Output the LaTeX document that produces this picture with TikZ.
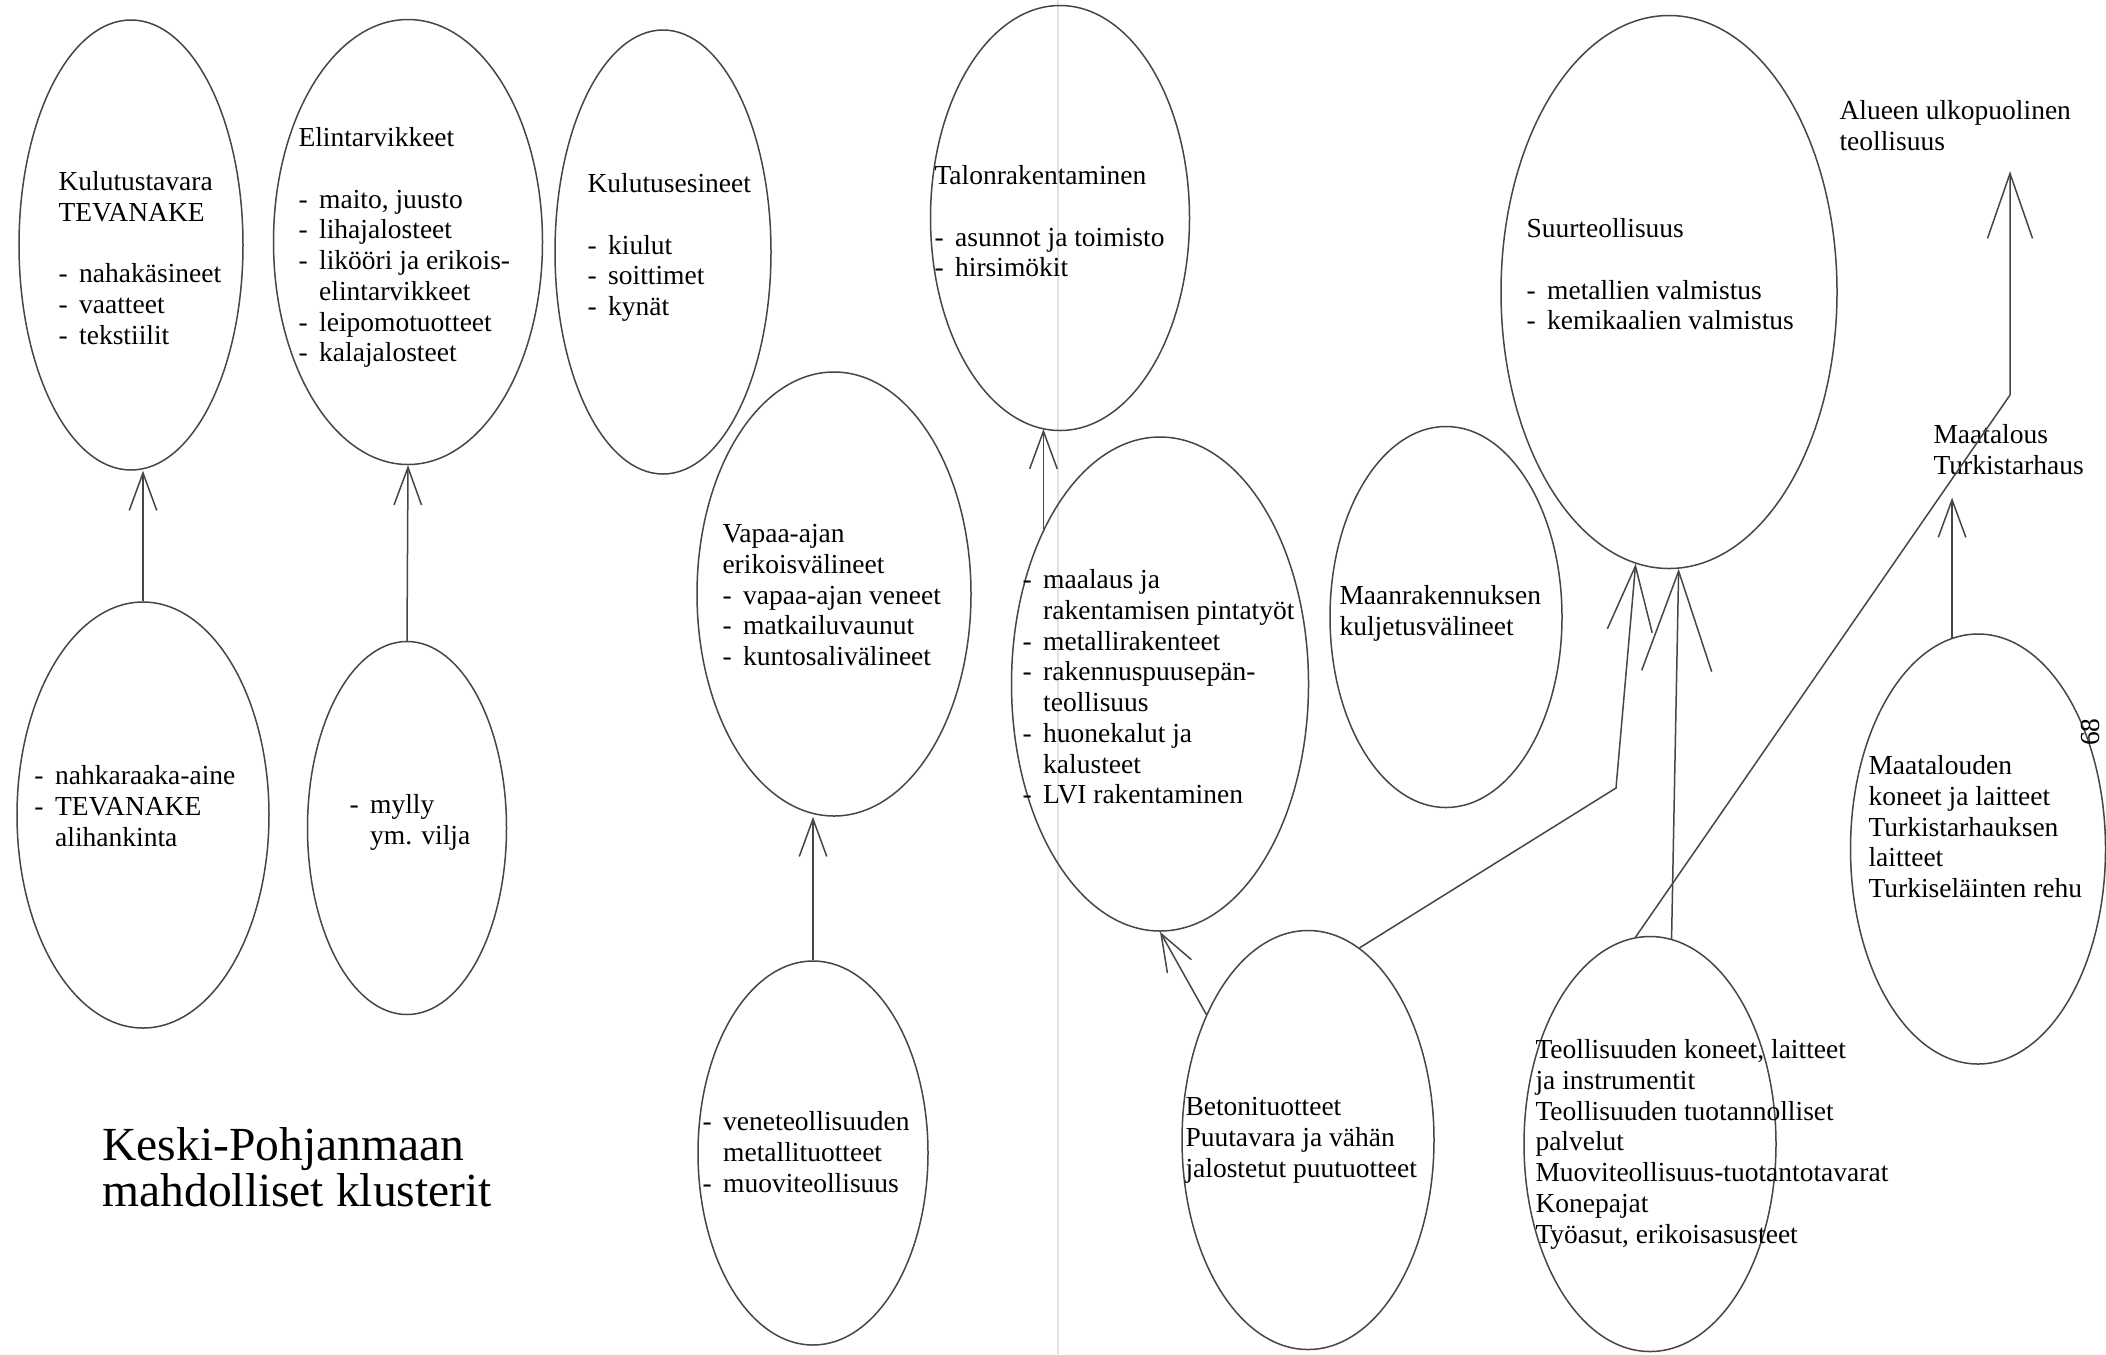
\documentclass[tikz,border=0pt]{standalone}
\usepackage{fontspec}
\setmainfont{Liberation Serif}
\usetikzlibrary{shapes.geometric, arrows.meta}
\definecolor{lineGray}{RGB}{70, 70, 70}
\definecolor{seamGray}{RGB}{226, 226, 226}
\newcommand{\itm}{-\hspace{0.42em}}
\newcommand{\ind}{\hphantom{-\hspace{0.42em}}}

\begin{document}
\begin{tikzpicture}[x=0.4pt, y=-0.4pt,
    oval/.style 2 args={ellipse, draw=lineGray, line width=0.6pt, minimum width=#1, minimum height=#2, inner sep=0pt},
    txt/.style={anchor=north west, inner sep=0pt, align=left, font=\fontsize{11}{12.3}\selectfont},
    flow/.style={draw=lineGray, line width=0.6pt, -{Straight Barb[length=15pt, width=11pt]}},
    bigflow/.style={flow, -{Straight Barb[length=26pt, width=18pt]}},
    hugeflow/.style={flow, -{Straight Barb[length=40pt, width=28pt]}}]
        \fill[white] (0,0) rectangle (2106,1354);
        \useasboundingbox (0,0) rectangle (2106,1354);
        \draw[seamGray, line width=0.8pt] (1058,0) -- (1058,1354);

        \node[oval={89.6pt}{180pt}] (kulutus) at (131,245) {};
        \node[oval={107.6pt}{178pt}] (elin) at (408,242) {};
        \node[oval={86.4pt}{177.6pt}] (esine) at (663,252) {};
        \node[oval={100.8pt}{170.4pt}] (nahka) at (143,815) {};
        \node[oval={79.6pt}{149.2pt}] (mylly) at (407,828) {};
        \node[oval={109.6pt}{177.6pt}] (vapaa) at (834,594) {};
        \node[oval={92pt}{153.6pt}] (vene) at (813,1153) {};
        \node[oval={103.6pt}{170pt}] (talo) at (1060,218) {};
        \node[oval={118.8pt}{197.6pt}] (maalaus) at (1160,684) {};
        \node[oval={100.8pt}{167.6pt}] (betoni) at (1308,1140) {};
        \node[oval={92.8pt}{152.4pt}] (maanrak) at (1446,617) {};
        \node[oval={134.4pt}{221.2pt}] (suur) at (1669,292) {};
        \node[oval={100.8pt}{166pt}] (teoll) at (1650,1144) {};
        \node[oval={102pt}{172pt}] (maatal) at (1978,849) {};

        \node[txt] (kulutus-t) at (58,171) {Kulutustavara\\TEVANAKE\\[12.3pt]\itm nahakäsineet\\\itm vaatteet\\\itm tekstiilit};
        \node[txt] (elin-t) at (298,127) {Elintarvikkeet\\[12.3pt]\itm maito, juusto\\\itm lihajalosteet\\\itm likööri ja erikois-\\\ind elintarvikkeet\\\itm leipomotuotteet\\\itm kalajalosteet};
        \node[txt] (esine-t) at (587,173) {Kulutusesineet\\[12.3pt]\itm kiulut\\\itm soittimet\\\itm kynät};
        \node[txt] (nahka-t) at (34,765) {\itm nahkaraaka-aine\\\itm TEVANAKE\\\ind alihankinta};
        \node[txt] (mylly-t) at (349,794) {\itm mylly\\\ind ym. vilja};
        \node[txt] (vapaa-t) at (722,524) {Vapaa-ajan\\erikoisvälineet\\\itm vapaa-ajan veneet\\\itm matkailuvaunut\\\itm kuntosalivälineet};
        \node[txt] (vene-t) at (702,1111) {\itm veneteollisuuden\\\ind metallituotteet\\\itm muoviteollisuus};
        \node[txt] (talo-t) at (934,165) {Talonrakentaminen\\[12.3pt]\itm asunnot ja toimisto\\\itm hirsimökit};
        \node[txt] (maalaus-t) at (1022,569) {\itm maalaus ja\\\ind rakentamisen pintatyöt\\\itm metallirakenteet\\\itm rakennuspuusepän-\\\ind teollisuus\\\itm huonekalut ja\\\ind kalusteet\\\itm LVI rakentaminen};
        \node[txt] (betoni-t) at (1185,1097) {Betonituotteet\\Puutavara ja vähän\\jalostetut puutuotteet};
        \node[txt] (maanrak-t) at (1339,585) {Maanrakennuksen\\kuljetusvälineet};
        \node[txt] (suur-t) at (1526,218) {Suurteollisuus\\[12.3pt]\itm metallien valmistus\\\itm kemikaalien valmistus};
        \node[txt] (teoll-t) at (1535,1039) {Teollisuuden koneet, laitteet\\ja instrumentit\\Teollisuuden tuotannolliset\\palvelut\\Muoviteollisuus-tuotantotavarat\\Konepajat\\Työasut, erikoisasusteet};
        \node[txt] (maatal-t) at (1868,755) {Maatalouden\\koneet ja laitteet\\Turkistarhauksen\\laitteet\\Turkiseläinten rehu};
        \node[txt] (alueen) at (1839,100) {Alueen ulkopuolinen\\teollisuus};
        \node[txt] (maatalous) at (1933,424) {Maatalous\\Turkistarhaus};
        \node[txt, font=\fontsize{19}{18.5}\selectfont] (otsikko) at (102,1127) {Keski-Pohjanmaan\\mahdolliset klusterit};
        \node[rotate=90, inner sep=0pt, font=\fontsize{11}{12}\selectfont] (sivu) at (2090,732) {68};

        \draw[flow] (nahka.north) -- (nahka.north |- kulutus.south);
        \draw[flow] (mylly.north) -- (elin.south);
        \draw[flow] (vene.north) -- (vene.north |- vapaa.south);
        \draw[flow] (maalaus.127) -- (maalaus.127 |- talo.-95);
        \draw[flow] (betoni.129) -- (maalaus.south);
        \coordinate (knee1) at (1616,788);
        \draw[bigflow] (betoni.75) -- (knee1) -- (suur.-97);
        \draw[hugeflow] (teoll.84) -- (suur.-88);
        \coordinate (knee2) at (2010,395);
        \draw[bigflow, shorten >=8pt] (teoll.94) -- (knee2) -- (knee2 |- alueen.south);
        \draw[flow, shorten >=9pt] (maatal.97) -- (maatal.97 |- maatalous.south);
      \end{tikzpicture}
\end{document}
